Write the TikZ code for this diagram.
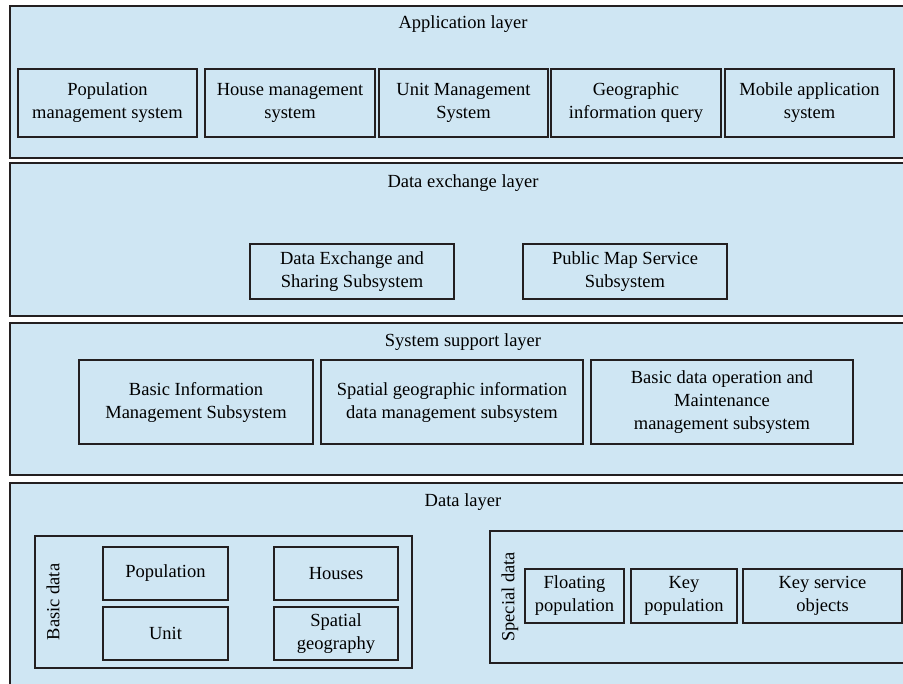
\documentclass[tikz,border=0pt]{standalone}
\usepackage{fontspec}
\setmainfont{Liberation Serif}
\definecolor{layerfill}{RGB}{207,230,243}
\definecolor{linecol}{RGB}{35,31,32}
\begin{document}
\begin{tikzpicture}[x=1pt,y=-1pt,
  layer/.style={draw=linecol,fill=layerfill,line width=1.6pt},
  box/.style={draw=linecol,fill=layerfill,line width=1.2pt,inner sep=0pt,align=center,
    font=\fontsize{18.5}{23}\selectfont},
  ttl/.style={inner sep=0pt,font=\fontsize{18.5}{23}\selectfont},
  group/.style={draw=linecol,line width=1.2pt}]
\useasboundingbox (0,0) rectangle (903,684);
\clip (0,0) rectangle (903,684);
\fill[white] (0,0) rectangle (903,684);
% layers
\draw[layer] (10,6) rectangle (916,158);
\draw[layer] (10,163) rectangle (916,316);
\draw[layer] (10,323) rectangle (916,475);
\draw[layer] (10,483) rectangle (916,700);
% titles
\node[ttl] (t1) at (463,24) {Application layer};
\node[ttl] (t2) at (463,183) {Data exchange layer};
\node[ttl] (t3) at (463,342) {System support layer};
\node[ttl] (t4) at (463,502) {Data layer};
% application layer
\node[box,minimum width=179pt,minimum height=68pt] (a1) at (107.5,103) {Population\\management system};
\node[box,minimum width=170pt,minimum height=68pt] (a2) at (290,103) {House management\\system};
\node[box,minimum width=169pt,minimum height=68pt] (a3) at (463.5,103) {Unit Management\\System};
\node[box,minimum width=170pt,minimum height=68pt] (a4) at (636,103) {Geographic\\information query};
\node[box,minimum width=169pt,minimum height=68pt] (a5) at (809.5,103) {Mobile application\\system};
% data exchange layer
\node[box,minimum width=204pt,minimum height=55pt] (e1) at (352,271.5) {Data Exchange and\\Sharing Subsystem};
\node[box,minimum width=204pt,minimum height=55pt] (e2) at (625,271.5) {Public Map Service\\Subsystem};
% system support layer
\node[box,minimum width=234pt,minimum height=84pt] (s1) at (196,402) {Basic Information\\Management Subsystem};
\node[box,minimum width=262pt,minimum height=84pt] (s2) at (452,402) {Spatial geographic information\\data management subsystem};
\node[box,minimum width=262pt,minimum height=84pt] (s3) at (722,402) {Basic data operation and\\Maintenance\\management subsystem};
% data layer
\draw[group] (35,536) rectangle (412,668);
\node[ttl,rotate=90] (bd) at (53,602) {Basic data};
\node[box,minimum width=125pt,minimum height=53pt] (d1) at (165.5,573.5) {Population};
\node[box,minimum width=125pt,minimum height=53pt] (d2) at (165.5,633.5) {Unit};
\node[box,minimum width=124pt,minimum height=53pt] (d3) at (336,573.5) {Houses};
\node[box,minimum width=124pt,minimum height=53pt] (d4) at (336,633.5) {Spatial\\geography};
\draw[group] (490,531) rectangle (916,663);
\node[ttl,rotate=90] (sd) at (510,597) {Special data};
\node[box,minimum width=99pt,minimum height=54pt] (p1) at (574.5,596) {Floating\\population};
\node[box,minimum width=106pt,minimum height=54pt] (p2) at (684,596) {Key\\population};
\node[box,minimum width=159pt,minimum height=54pt] (p3) at (822.5,596) {Key service\\objects};
\end{tikzpicture}
\end{document}
